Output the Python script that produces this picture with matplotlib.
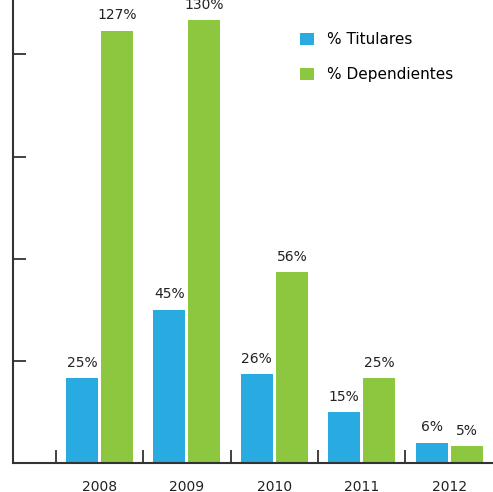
import matplotlib.pyplot as plt
import numpy as np

years = ['2008', '2009', '2010', '2011', '2012']
titulares = [25, 45, 26, 15, 6]
dependientes = [127, 130, 56, 25, 5]

blue = '#29abe2'
green = '#8dc63f'

fig = plt.figure(figsize=(4.93, 4.92), dpi=100)
ax = fig.add_axes([13 / 493, 1 - 463 / 492, (492 - 13) / 493, 463 / 492])

x = np.arange(len(years))
w = 0.366
b1 = ax.bar(x - 0.2, titulares, w, color=blue, label='% Titulares')
b2 = ax.bar(x + 0.2, dependientes, w, color=green, label='% Dependientes')

for bars, vals in ((b1, titulares), (b2, dependientes)):
    for r, v in zip(bars, vals):
        ax.annotate('{}%'.format(v), (r.get_x() + r.get_width() / 2, r.get_height()),
                    xytext=(0, 6), textcoords='offset points',
                    ha='center', va='bottom', fontsize=10, color='#222222')

ax.set_xlim(-0.99, 4.49)
ax.set_ylim(0, 136)
ax.set_yticks([30, 60, 90, 120])
ax.set_yticklabels([])
ax.set_xticks([-0.5, 0.5, 1.5, 2.5, 3.5])
ax.set_xticklabels([])
ax.set_xticks(x, minor=True)
ax.set_xticklabels(years, minor=True, fontsize=10, color='#222222')
ax.tick_params(axis='x', which='minor', length=0, pad=12)
ax.tick_params(axis='both', which='major', direction='in', length=9.5, width=1.3, color='#333333')

for s in ('top', 'right'):
    ax.spines[s].set_visible(False)
for s in ('left', 'bottom'):
    ax.spines[s].set_linewidth(1.5)
    ax.spines[s].set_color('#333333')

ax.legend(loc='upper left', bbox_to_anchor=(0.57, 0.96), frameon=False,
          fontsize=11, handlelength=0.9, handleheight=0.9,
          handletextpad=0.9, labelspacing=1.3)

fig.savefig('out.png', dpi=100)
